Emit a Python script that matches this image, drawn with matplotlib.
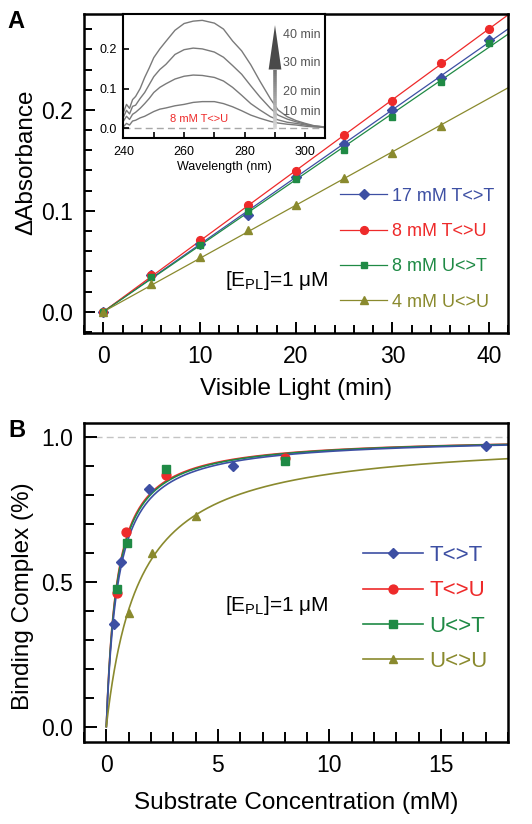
import numpy as np
import matplotlib
matplotlib.use('Agg')
import matplotlib.pyplot as plt
from matplotlib.collections import LineCollection
from matplotlib.lines import Line2D
from matplotlib.ticker import MultipleLocator, FixedLocator

plt.rcParams['font.family'] = ['Liberation Sans', 'DejaVu Sans']
plt.rcParams['mathtext.fontset'] = 'custom'
plt.rcParams['mathtext.rm'] = 'Liberation Sans'
plt.rcParams['mathtext.it'] = 'Liberation Sans:italic'
plt.rcParams['mathtext.bf'] = 'Liberation Sans:bold'

# ---------------- Panel A data ----------------
time_min = [0, 5, 10, 15, 20, 25, 30, 35, 40]
abs_TT = [0, 0.036, 0.067, 0.0954, 0.134, 0.1666, 0.1997, 0.232, 0.2695]
abs_TU = [0, 0.0368, 0.0709, 0.1056, 0.1394, 0.1752, 0.2086, 0.246, 0.280]
abs_UT = [0, 0.034, 0.0666, 0.1003, 0.132, 0.160, 0.193, 0.228, 0.266]
time_UU = [0, 5, 10, 15, 20, 25, 30, 35]
abs_UU = [0, 0.028, 0.0546, 0.0815, 0.1053, 0.1325, 0.1576, 0.1838]
labels_A = ['17 mM T<>T', '8 mM T<>U', '8 mM U<>T', '4 mM U<>U']

# Inset spectra (8 mM T<>U)
wavelength = [240, 241, 242, 243, 244, 245.5, 247, 248.5, 250, 252, 254, 257, 260, 263,
              266, 270, 273, 276, 279, 282, 285, 288.5, 291, 294, 297, 300, 303, 306.5]
spec_40 = [0.040, 0.060, 0.050, 0.072, 0.080, 0.100, 0.128, 0.152, 0.178, 0.200, 0.219, 0.247,
           0.264, 0.270, 0.272, 0.265, 0.250, 0.220, 0.195, 0.160, 0.119, 0.074, 0.046, 0.029,
           0.019, 0.012, 0.006, 0.003]
spec_30 = [0.028, 0.045, 0.036, 0.055, 0.058, 0.075, 0.090, 0.110, 0.130, 0.148, 0.161, 0.186,
           0.198, 0.202, 0.200, 0.192, 0.179, 0.158, 0.136, 0.107, 0.079, 0.050, 0.033, 0.023,
           0.016, 0.010, 0.005, 0.003]
spec_20 = [0.018, 0.030, 0.022, 0.035, 0.040, 0.050, 0.062, 0.075, 0.090, 0.103, 0.112, 0.124,
           0.131, 0.134, 0.133, 0.128, 0.119, 0.103, 0.083, 0.062, 0.046, 0.029, 0.021, 0.015,
           0.012, 0.008, 0.005, 0.003]
spec_10 = [0.004, 0.012, 0.008, 0.018, 0.020, 0.026, 0.030, 0.036, 0.042, 0.048, 0.051, 0.0565,
           0.060, 0.065, 0.067, 0.067, 0.062, 0.054, 0.044, 0.033, 0.025, 0.017, 0.013, 0.010,
           0.008, 0.005, 0.003, 0.002]
spec_labels = ['40 min', '30 min', '20 min', '10 min']
spec_label_y = [0.235, 0.164, 0.092, 0.041]

# ---------------- Panel B data ----------------
conc_TT = [0.34, 0.67, 1.93, 5.69, 17.0]
bind_TT = [0.355, 0.568, 0.818, 0.899, 0.966]
conc_TU = [0.46, 0.88, 2.69, 8.01]
bind_TU = [0.46, 0.67, 0.868, 0.925]
conc_UT = [0.46, 0.91, 2.69, 8.0]
bind_UT = [0.475, 0.634, 0.887, 0.916]
conc_UU = [1.03, 2.03, 4.03]
bind_UU = [0.393, 0.600, 0.725]
labels_B = ['T<>T', 'T<>U', 'U<>T', 'U<>U']

# ---------------- Styles ----------------
c_blue = '#3d4fa3'
c_red = '#ee2a2a'
c_green = '#1f8a45'
c_olive = '#8a8a2e'
colors = [c_blue, c_red, c_green, c_olive]
markers = ['D', 'o', 's', '^']
ms_A = [4.6, 5.6, 4.6, 5.4]
ms_B = [5.4, 6.4, 5.4, 6.2]

fig = plt.figure(figsize=(5.32, 8.24), dpi=100)

def style_axes(ax, maj_len, min_len):
    for s in ax.spines.values():
        s.set_linewidth(1.8)
    ax.tick_params(which='both', direction='in', top=False, right=False, width=1.4,
                   labelsize=16.5)
    ax.tick_params(which='major', length=maj_len)
    ax.tick_params(which='minor', length=min_len)

# ================= Panel A =================
axA = fig.add_axes([0.1579, 0.5959, 0.797, 0.3871])
xs_A = [time_min, time_min, time_min, time_UU]
ys_A = [abs_TT, abs_TU, abs_UT, abs_UU]
xfit = np.linspace(0, 42, 50)
for x, y, c, m, ms in zip(xs_A, ys_A, colors, markers, ms_A):
    x = np.asarray(x, float); y = np.asarray(y, float)
    slope = np.sum(x * y) / np.sum(x * x)
    axA.plot(xfit, slope * xfit, color=c, lw=0.9, zorder=2)
for x, y, c, m, ms in zip(xs_A, ys_A, colors, markers, ms_A):
    axA.plot(x, y, ls='none', marker=m, ms=ms, color=c, mec=c, zorder=3)

axA.set_xlim(-2, 42)
axA.set_ylim(-0.021, 0.295)
axA.xaxis.set_major_locator(MultipleLocator(10))
axA.xaxis.set_minor_locator(MultipleLocator(2))
axA.yaxis.set_major_locator(FixedLocator([0.0, 0.1, 0.2]))
axA.yaxis.set_minor_locator(MultipleLocator(0.02))
axA.yaxis.set_major_formatter(plt.FuncFormatter(lambda v, p: f'{v:.1f}'))
style_axes(axA, 7.7, 6)
axA.tick_params(axis='x', pad=9)
axA.tick_params(axis='y', pad=8)
axA.set_xlabel('Visible Light (min)', fontsize=17.5, labelpad=7)
axA.set_ylabel('ΔAbsorbance', fontsize=17.5)
axA.yaxis.set_label_coords(-0.111, 0.536)

handlesA = [Line2D([], [], color=c, marker=m, ms=ms, lw=0.9) for c, m, ms in zip(colors, markers, ms_A)]
legA = axA.legend(handlesA, labels_A, loc='upper left', bbox_to_anchor=(0.604, 0.456),
                  frameon=False, fontsize=13, handlelength=2.6, handletextpad=0.3,
                  labelspacing=1.02, borderpad=0, borderaxespad=0)
for t, c in zip(legA.get_texts(), colors):
    t.set_color(c)
axA.text(0.333, 0.166, r'[E$_{\mathrm{PL}}$]=1 μM', transform=axA.transAxes,
         fontsize=15, ha='left', va='center')

# ---------------- Inset ----------------
axI = fig.add_axes([0.2321, 0.8329, 0.3788, 0.1501])
axI.axhline(0, color='#a8a8a8', lw=1, dashes=(5, 3), zorder=1)
for sp in [spec_40, spec_30, spec_20, spec_10]:
    axI.plot(wavelength, sp, color='#7a7a7a', lw=1, zorder=2)
axI.set_xlim(240, 306.5)
axI.set_ylim(-0.024, 0.288)
axI.xaxis.set_major_locator(MultipleLocator(20))
axI.xaxis.set_minor_locator(MultipleLocator(10))
axI.yaxis.set_major_locator(MultipleLocator(0.1))
axI.yaxis.set_major_formatter(plt.FuncFormatter(lambda v, p: f'{v:.1f}'))
for s in axI.spines.values():
    s.set_linewidth(1.5)
axI.tick_params(which='both', direction='in', top=False, right=False, width=1.2,
                length=4, labelsize=9)
axI.tick_params(axis='x', pad=6)
axI.tick_params(axis='y', pad=5)
axI.set_xlabel('Wavelength (nm)', fontsize=9, labelpad=2)

# gradient arrow
arrow_x = 290
shaft_top = 0.148
tip_y = 0.26
head_half = 2.1
ys_sh = np.linspace(-0.003, shaft_top, 30)
segs = [[(arrow_x, ys_sh[i]), (arrow_x, ys_sh[i + 1])] for i in range(len(ys_sh) - 1)]
grays = np.linspace(0.85, 0.45, len(segs))
lc = LineCollection(segs, colors=[(g, g, g) for g in grays], linewidths=2.6, zorder=3)
axI.add_collection(lc)
axI.fill([arrow_x - head_half, arrow_x + head_half, arrow_x],
         [shaft_top, shaft_top, tip_y], color='#4a4a4a', lw=0, zorder=3)
for lab, yy in zip(spec_labels, spec_label_y):
    axI.text(292.8, yy, lab, fontsize=9, color='#555555', ha='left', va='center')
axI.text(265, 0.024, '8 mM T<>U', fontsize=8, color=c_red, ha='center', va='center')

# ================= Panel B =================
axB = fig.add_axes([0.1579, 0.0999, 0.797, 0.3871])
axB.axhline(1.0, color='#c4c4c4', lw=1, dashes=(5, 3), zorder=1)
xs_B = [conc_TT, conc_TU, conc_UT, conc_UU]
ys_B = [bind_TT, bind_TU, bind_UT, bind_UU]
xcurve = np.linspace(0, 18, 600)
Kgrid = np.linspace(0.05, 5, 4951)
fit_order = [1, 2, 0, 3]
for i in fit_order:
    x = np.asarray(xs_B[i], float); y = np.asarray(ys_B[i], float)
    sse = [np.sum((y - x / (K + x)) ** 2) for K in Kgrid]
    Kd = Kgrid[int(np.argmin(sse))]
    axB.plot(xcurve, xcurve / (Kd + xcurve), color=colors[i], lw=1.2, zorder=2)
for x, y, c, m, ms in zip(xs_B, ys_B, colors, markers, ms_B):
    axB.plot(x, y, ls='none', marker=m, ms=ms, color=c, mec=c, zorder=3)

axB.set_xlim(-1, 18)
axB.set_ylim(-0.052, 1.048)
axB.xaxis.set_major_locator(MultipleLocator(5))
axB.xaxis.set_minor_locator(MultipleLocator(1))
axB.yaxis.set_major_locator(MultipleLocator(0.5))
axB.yaxis.set_minor_locator(MultipleLocator(0.1))
axB.yaxis.set_major_formatter(plt.FuncFormatter(lambda v, p: f'{v:.1f}'))
style_axes(axB, 9.6, 7.2)
axB.tick_params(axis='x', pad=9)
axB.tick_params(axis='y', pad=8)
axB.set_xlabel('Substrate Concentration (mM)', fontsize=17.5, labelpad=11)
axB.set_ylabel('Binding Complex (%)', fontsize=17.5)
axB.yaxis.set_label_coords(-0.118, 0.455)

handlesB = [Line2D([], [], color=c, marker=m, ms=ms, lw=1.2) for c, m, ms in zip(colors, markers, ms_B)]
legB = axB.legend(handlesB, labels_B, loc='upper left', bbox_to_anchor=(0.658, 0.616),
                  frameon=False, fontsize=16, handlelength=2.7, handletextpad=0.3,
                  labelspacing=0.64, borderpad=0, borderaxespad=0)
for t, c in zip(legB.get_texts(), colors):
    t.set_color(c)
axB.text(0.333, 0.428, r'[E$_{\mathrm{PL}}$]=1 μM', transform=axB.transAxes,
         fontsize=15, ha='left', va='center')

# panel letters
fig.text(7 / 532, 1 - 10 / 824, 'A', fontsize=17, fontweight='bold', ha='left', va='top')
fig.text(8 / 532, 1 - 419 / 824, 'B', fontsize=17, fontweight='bold', ha='left', va='top')

fig.savefig('out.png', dpi=100)
